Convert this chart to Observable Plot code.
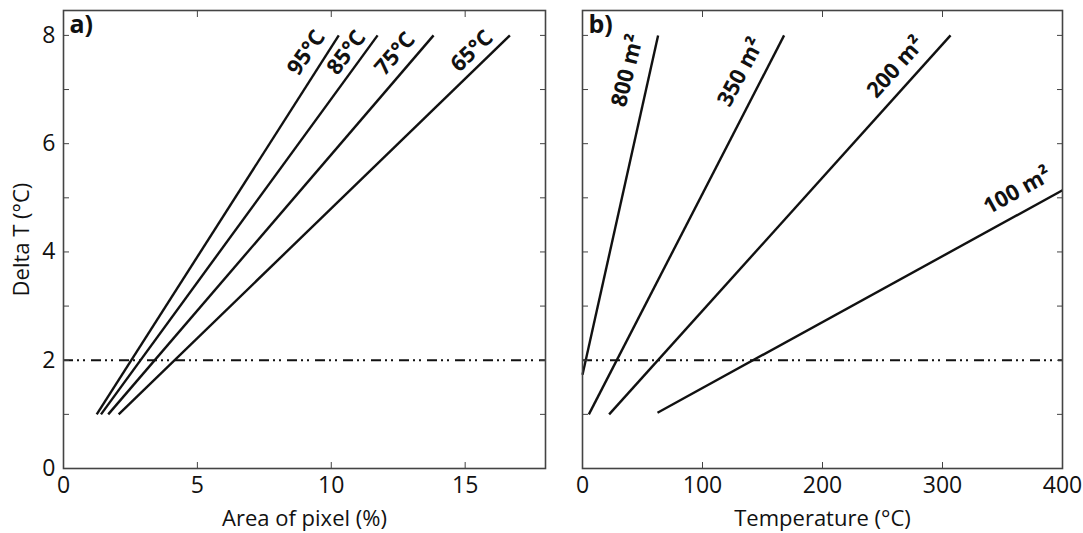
<!DOCTYPE html>
<html><head><meta charset="utf-8">
<script src="https://cdn.jsdelivr.net/npm/d3@7"></script>
<script src="https://cdn.jsdelivr.net/npm/@observablehq/plot@0.6"></script>
<style>
body{margin:0;background:#fff;}
#wrap{position:relative;width:1083px;height:533px;overflow:hidden;}
#a{position:absolute;left:0;top:0;}
#b{position:absolute;left:560px;top:0;}
</style></head><body><div id="wrap"><div id="a"></div><div id="b"></div></div>
<script>
// ---- Panel a: Delta T vs area of pixel ----
const tempLabels = ["95°C", "85°C", "75°C", "65°C"];
const areaStart = [1.24, 1.40, 1.67, 2.06];
const areaEnd = [10.28, 11.73, 13.82, 16.67];
const dTStartA = [1, 1, 1, 1];
const dTEndA = [8, 8, 8, 8];
const labelAreaX = [9.07, 10.57, 12.38, 15.25];
const labelDTA = [7.68, 7.68, 7.66, 7.71];
const labelAngleA = [-55, -53, -49, -44];

// ---- Panel b: Delta T vs temperature ----
const areaLabels = ["800 m²", "350 m²", "200 m²", "100 m²"];
const tempStart = [0, 5.3, 22.2, 62.5];
const tempEnd = [63, 168, 306.7, 400];
const dTStartB = [1.73, 1, 1, 1.03];
const dTEndB = [8, 8, 8, 5.14];
const labelTempX = [37.5, 131.9, 261, 362.5];
const labelDTB = [7.35, 7.32, 7.41, 5.13];
const labelAngleB = [-76, -62, -48, -29];

// ---- shared ----
const threshold = [2];
const yTicks = [0, 1, 2, 3, 4, 5, 6, 7, 8];
const yTickLabels = [0, 2, 4, 6, 8];
const xTicksA = [0, 5, 10, 15];
const xTicksB = [0, 100, 200, 300, 400];
const panelNames = ["a)", "b)"];

const FONT = "'Open Sans', 'Noto Sans', sans-serif";
const INK = "#111";
const FRAME = "#444";

const linesA = tempLabels.map((t, i) => ({t, x1: areaStart[i], y1: dTStartA[i], x2: areaEnd[i], y2: dTEndA[i], lx: labelAreaX[i], ly: labelDTA[i], rot: labelAngleA[i]}));
const linesB = areaLabels.map((t, i) => ({t, x1: tempStart[i], y1: dTStartB[i], x2: tempEnd[i], y2: dTEndB[i], lx: labelTempX[i], ly: labelDTB[i], rot: labelAngleB[i]}));

function panel({lines, xDomain, xTicks, xLabel, yLabel, name, width, marginLeft, marginRight}) {
  const marks = [
    Plot.ruleY(threshold, {stroke: INK, strokeWidth: 2, strokeDasharray: "10,4,2,4,2,6"}),
    Plot.link(lines, {x1: "x1", y1: "y1", x2: "x2", y2: "y2", stroke: INK, strokeWidth: 2.4}),
    Plot.text(lines, {x: "lx", y: "ly", text: "t", rotate: "rot", fontWeight: "bold", fontSize: 22, fill: INK, textAnchor: "middle", lineAnchor: "middle"}),
    Plot.text([name], {frameAnchor: "top-left", dx: 6, dy: 5, fontWeight: "bold", fontSize: 25, fill: INK, textAnchor: "start", lineAnchor: "top"}),
    // inward ticks on all four sides
    Plot.axisY({anchor: "left", ticks: yTicks, tickSize: -6, tickFormat: () => "", label: null, stroke: FRAME}),
    Plot.axisY({anchor: "right", ticks: yTicks, tickSize: -6, tickFormat: () => "", label: null, stroke: FRAME}),
    Plot.axisX({anchor: "bottom", ticks: xTicks, tickSize: -6, tickFormat: () => "", label: null, stroke: FRAME}),
    Plot.axisX({anchor: "top", ticks: xTicks, tickSize: -6, tickFormat: () => "", label: null, stroke: FRAME}),
    // tick labels and title
    Plot.axisX({anchor: "bottom", ticks: xTicks, tickSize: 0, tickPadding: 8, fontSize: 23, fill: INK, label: null}),
    Plot.axisX({anchor: "bottom", ticks: [], tickSize: 0, fontSize: 22, fill: INK,
      label: xLabel, labelAnchor: "center", labelOffset: 57, labelArrow: "none"}),
    Plot.frame({stroke: FRAME, strokeWidth: 1.6})
  ];
  if (yLabel) {
    marks.push(Plot.axisY({anchor: "left", ticks: yTickLabels, tickSize: 0, tickPadding: 8, fontSize: 23, fill: INK, label: null}));
    marks.push(Plot.axisY({anchor: "left", ticks: [], tickSize: 0, fontSize: 22, fill: INK,
      label: yLabel, labelAnchor: "center", labelOffset: 50, labelArrow: "none"}));
  }
  return Plot.plot({
    width, height: 533,
    marginTop: 10, marginBottom: 65, marginLeft, marginRight,
    style: {fontFamily: FONT, fontSize: "22px", color: INK, background: "#fff", overflow: "visible"},
    x: {domain: xDomain},
    y: {domain: [0, 8.46]},
    marks
  });
}

document.getElementById("a").append(panel({
  lines: linesA, xDomain: [0, 18], xTicks: xTicksA, xLabel: "Area of pixel (%)", yLabel: "Delta T (°C)",
  name: panelNames[0], width: 560, marginLeft: 63, marginRight: 15
}));
document.getElementById("b").append(panel({
  lines: linesB, xDomain: [0, 400], xTicks: xTicksB, xLabel: "Temperature (°C)", yLabel: null,
  name: panelNames[1], width: 523, marginLeft: 22, marginRight: 21
}));
</script></body></html>
